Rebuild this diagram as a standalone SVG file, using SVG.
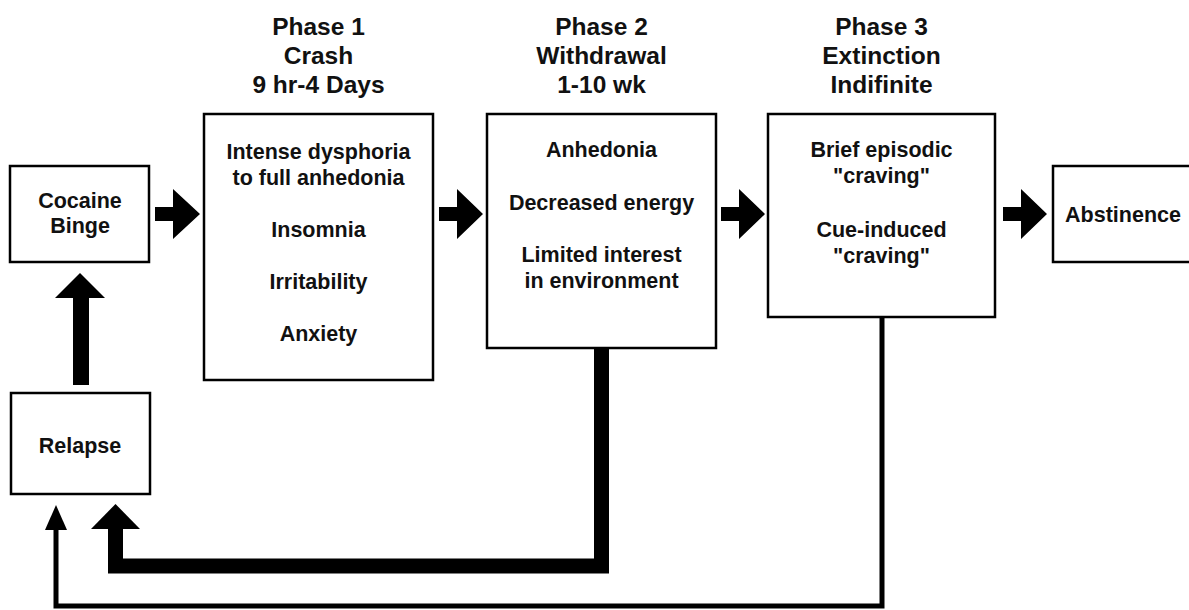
<svg xmlns="http://www.w3.org/2000/svg" width="1189" height="610" viewBox="0 0 1189 610">
<style>
.box{fill:#fff;stroke:#000;stroke-width:2.5}
text{font-family:"Liberation Sans",Arial,Helvetica,sans-serif;font-weight:bold;fill:#111;text-anchor:middle}
.t{font-size:21.5px}
.h{font-size:24.5px}
.arr{fill:#000;stroke:none}
</style>
<rect width="1189" height="610" fill="#fff"/>
<g id="connectors">
<polygon class="arr" points="155,207 173,207 173,189 200,214 173,239 173,221 155,221"/>
<polygon class="arr" points="439,207 457,207 457,189 483,214 457,239 457,221 439,221"/>
<polygon class="arr" points="721,207 739,207 739,189 765,214 739,239 739,221 721,221"/>
<polygon class="arr" points="1003,207 1021,207 1021,189 1047,214 1021,239 1021,221 1003,221"/>
<polygon class="arr" points="73,385 89,385 89,298 105,298 80,273 55,298 73,298"/>
<path d="M601.5,348 V566 H115.5 V527" fill="none" stroke="#000" stroke-width="15"/>
<polygon class="arr" points="91,529 140,529 115.5,504"/>
<path d="M882,317 V606 H56 V528" fill="none" stroke="#000" stroke-width="5"/>
<polygon class="arr" points="45,530 67,530 56,505"/>
</g>
<g id="cocaine">
<rect class="box" x="10" y="166" width="139" height="96"/>
<text class="t" x="80" y="208">Cocaine</text>
<text class="t" x="80" y="233">Binge</text>
</g>
<g id="relapse">
<rect class="box" x="11" y="393" width="139" height="101"/>
<text class="t" x="80" y="453">Relapse</text>
</g>
<g id="phase1">
<text class="h" x="318.5" y="35">Phase 1</text>
<text class="h" x="318.5" y="64">Crash</text>
<text class="h" x="318.5" y="93">9 hr-4 Days</text>
<rect class="box" x="204" y="114" width="229" height="266"/>
<text class="t" x="318.5" y="159">Intense dysphoria</text>
<text class="t" x="318.5" y="185">to full anhedonia</text>
<text class="t" x="318.5" y="237">Insomnia</text>
<text class="t" x="318.5" y="289">Irritability</text>
<text class="t" x="318.5" y="341">Anxiety</text>
</g>
<g id="phase2">
<text class="h" x="601.5" y="35">Phase 2</text>
<text class="h" x="601.5" y="64">Withdrawal</text>
<text class="h" x="601.5" y="93">1-10 wk</text>
<rect class="box" x="487" y="114" width="229" height="234"/>
<text class="t" x="601.5" y="157">Anhedonia</text>
<text class="t" x="601.5" y="210">Decreased energy</text>
<text class="t" x="601.5" y="262">Limited interest</text>
<text class="t" x="601.5" y="288">in environment</text>
</g>
<g id="phase3">
<text class="h" x="881.5" y="35">Phase 3</text>
<text class="h" x="881.5" y="64">Extinction</text>
<text class="h" x="881.5" y="93">Indifinite</text>
<rect class="box" x="768" y="114" width="227" height="203"/>
<text class="t" x="881.5" y="157">Brief episodic</text>
<text class="t" x="881.5" y="183">"craving"</text>
<text class="t" x="881.5" y="237">Cue-induced</text>
<text class="t" x="881.5" y="263">"craving"</text>
</g>
<g id="abstinence">
<rect class="box" x="1053" y="166" width="145" height="96"/>
<text class="t" x="1123" y="222">Abstinence</text>
</g>
</svg>
